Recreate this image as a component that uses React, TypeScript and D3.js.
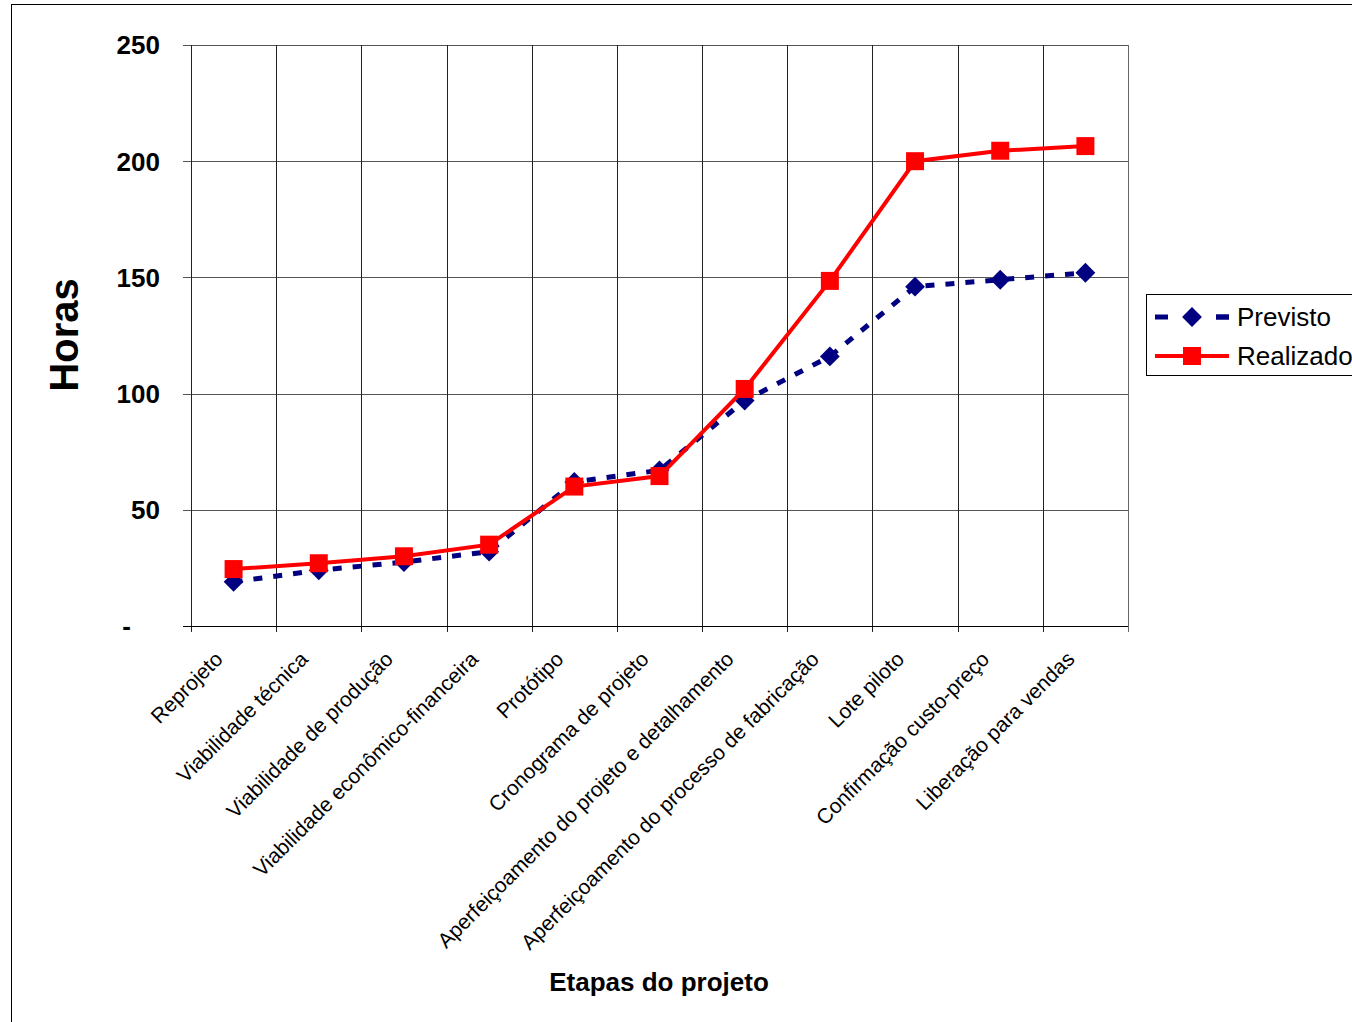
import React, { useEffect, useRef } from "react";
import * as d3 from "d3";

const categories = [
  "Reprojeto",
  "Viabilidade técnica",
  "Viabilidade de produção",
  "Viabilidade econômico-financeira",
  "Protótipo",
  "Cronograma de projeto",
  "Aperfeiçoamento do projeto e detalhamento",
  "Aperfeiçoamento do processo de fabricação",
  "Lote piloto",
  "Confirmação custo-preço",
  "Liberação para vendas",
];

const previsto = [19, 24, 27.5, 32, 62, 67, 97, 116, 146, 149, 152];
const realizado = [24.5, 27, 30, 35, 60, 64.5, 102, 148.5, 200, 204.5, 206.5];

const yTicks = [0, 50, 100, 150, 200, 250];

const W = 1352;
const H = 1022;
const FONT = "'Liberation Sans', Arial, sans-serif";

export default function App() {
  const ref = useRef<SVGSVGElement | null>(null);

  useEffect(() => {
    const svg = d3.select(ref.current);
    svg.selectAll("*").remove();

    const left = 191;
    const right = 1128;
    const top = 45;
    const bottom = 626;

    const x = d3.scaleBand<string>().domain(categories).range([left, right]).padding(0);
    const y = d3.scaleLinear().domain([0, 250]).range([bottom, top]);
    const cx = (i: number) => (x(categories[i]) as number) + x.bandwidth() / 2;

    // outer chart frame
    svg
      .append("rect")
      .attr("x", 11.5)
      .attr("y", 4.5)
      .attr("width", W + 20)
      .attr("height", H + 20)
      .attr("fill", "white")
      .attr("stroke", "#000")
      .attr("stroke-width", 1);

    const g = svg.append("g");

    // horizontal gridlines
    yTicks.forEach((t) => {
      if (t === 0) return;
      g.append("line")
        .attr("x1", left - 8)
        .attr("x2", right)
        .attr("y1", Math.round(y(t)) + 0.5)
        .attr("y2", Math.round(y(t)) + 0.5)
        .attr("stroke", "#555")
        .attr("stroke-width", 1);
    });

    // vertical gridlines at category boundaries
    const bounds = categories.map((c) => x(c) as number).concat([right]);
    bounds.forEach((bx, i) => {
      const px = Math.round(bx) + 0.5;
      g.append("line")
        .attr("x1", px)
        .attr("x2", px)
        .attr("y1", top)
        .attr("y2", bottom + 6)
        .attr("stroke", i === bounds.length - 1 ? "#666" : "#222")
        .attr("stroke-width", 1);
    });

    // x axis baseline
    g.append("line")
      .attr("x1", left - 8)
      .attr("x2", right)
      .attr("y1", bottom + 0.5)
      .attr("y2", bottom + 0.5)
      .attr("stroke", "#000");

    // y axis labels
    yTicks.forEach((t) => {
      g.append("text")
        .attr("x", t === 0 ? 131 : 160)
        .attr("y", y(t))
        .attr("dy", "0.36em")
        .attr("text-anchor", "end")
        .attr("font-family", FONT)
        .attr("font-weight", "bold")
        .attr("font-size", 26)
        .attr("fill", "#000")
        .text(t === 0 ? "-" : String(t));
    });

    // category labels, rotated
    categories.forEach((c, i) => {
      const px = cx(i) - 20;
      const py = 650;
      g.append("text")
        .attr("transform", `translate(${px},${py}) rotate(-45)`)
        .attr("text-anchor", "end")
        .attr("dy", "0.7em")
        .attr("font-family", FONT)
        .attr("font-size", 21)
        .attr("fill", "#000")
        .text(c);
    });

    // axis titles
    g.append("text")
      .attr("transform", `translate(78,335) rotate(-90)`)
      .attr("text-anchor", "middle")
      .attr("font-family", FONT)
      .attr("font-weight", "bold")
      .attr("font-size", 40)
      .text("Horas");

    g.append("text")
      .attr("x", 659)
      .attr("y", 991)
      .attr("text-anchor", "middle")
      .attr("font-family", FONT)
      .attr("font-weight", "bold")
      .attr("font-size", 26)
      .text("Etapas do projeto");

    const line = d3
      .line<number>()
      .x((_, i) => cx(i))
      .y((d) => y(d));

    const diamond = d3.symbol().type(d3.symbolDiamond2).size(250);
    const square = d3.symbol().type(d3.symbolSquare).size(324);

    // Previsto series
    g.append("path")
      .datum(previsto)
      .attr("d", line)
      .attr("fill", "none")
      .attr("stroke", "#000080")
      .attr("stroke-width", 5)
      .attr("stroke-dasharray", "9,11");
    g.selectAll(".prev")
      .data(previsto)
      .enter()
      .append("path")
      .attr("transform", (d, i) => `translate(${cx(i)},${y(d)})`)
      .attr("d", diamond as any)
      .attr("fill", "#000080");

    // Realizado series
    g.append("path")
      .datum(realizado)
      .attr("d", line)
      .attr("fill", "none")
      .attr("stroke", "#ff0000")
      .attr("stroke-width", 4);
    g.selectAll(".real")
      .data(realizado)
      .enter()
      .append("path")
      .attr("transform", (d, i) => `translate(${cx(i)},${y(d)})`)
      .attr("d", square as any)
      .attr("fill", "#ff0000");

    // legend
    const lg = svg.append("g");
    lg.append("rect")
      .attr("x", 1146.5)
      .attr("y", 294.5)
      .attr("width", 240)
      .attr("height", 81)
      .attr("fill", "white")
      .attr("stroke", "#000");
    const rows = [
      { name: "Previsto", color: "#000080", dash: true, sym: diamond, y: 317 },
      { name: "Realizado", color: "#ff0000", dash: false, sym: square, y: 356 },
    ];
    rows.forEach((r) => {
      const ln = lg
        .append("line")
        .attr("x1", 1155)
        .attr("x2", 1229)
        .attr("y1", r.y)
        .attr("y2", r.y)
        .attr("stroke", r.color)
        .attr("stroke-width", r.dash ? 5 : 4);
      if (r.dash) ln.attr("stroke-dasharray", "13,48");
      if (r.dash) {
        lg.append("line")
          .attr("x1", 1216)
          .attr("x2", 1229)
          .attr("y1", r.y)
          .attr("y2", r.y)
          .attr("stroke", r.color)
          .attr("stroke-width", 5);
      }
      lg.append("path")
        .attr("transform", `translate(1192,${r.y})`)
        .attr("d", r.sym as any)
        .attr("fill", r.color);
      lg.append("text")
        .attr("x", 1237)
        .attr("y", r.y)
        .attr("dy", "0.36em")
        .attr("font-family", FONT)
        .attr("font-size", 26)
        .attr("fill", "#000")
        .text(r.name);
    });
  }, []);

  return (
    <svg
      ref={ref}
      width={W}
      height={H}
      style={{ position: "absolute", left: 0, top: 0, background: "white" }}
    />
  );
}
